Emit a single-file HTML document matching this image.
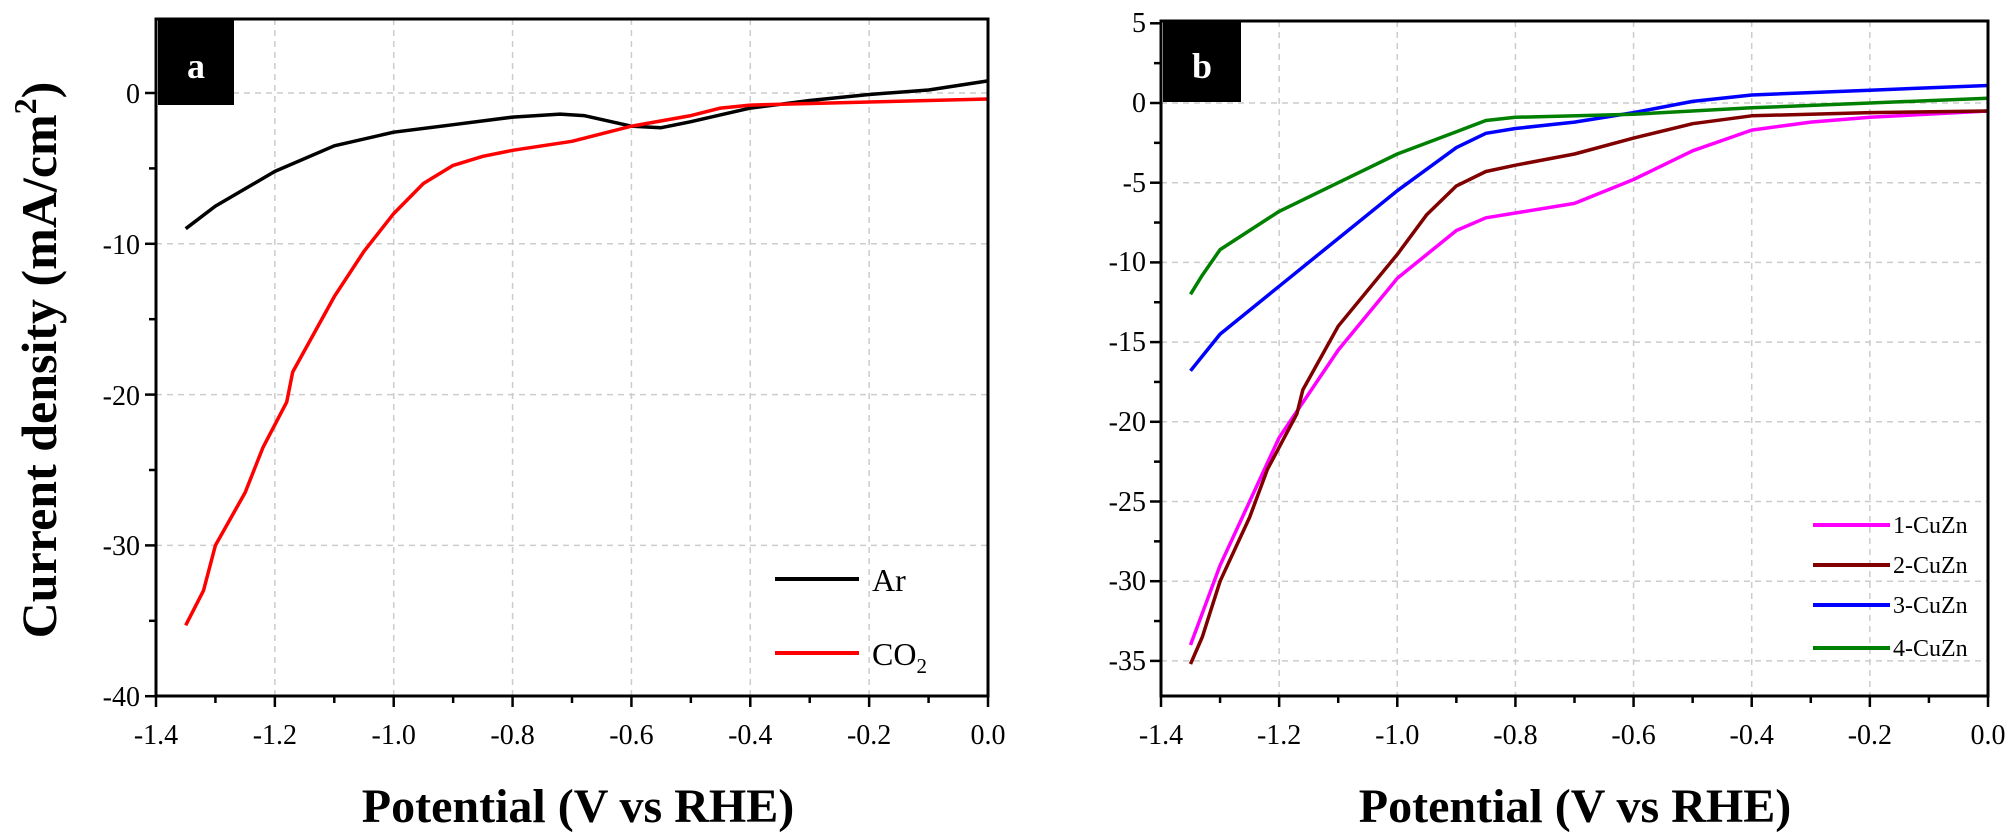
<!DOCTYPE html>
<html><head><meta charset="utf-8"><style>
html,body{margin:0;padding:0;background:#fff}
svg{display:block}
</style></head><body>
<svg id="s" width="2006" height="834" viewBox="0 0 2006 834" xmlns="http://www.w3.org/2000/svg" font-family="'Liberation Serif', serif">
<g id="grid"></g>
<g id="ticks"></g>
<g id="curves" fill="none" stroke-width="3.5" stroke-linejoin="round"></g>
<rect x="156" y="19" width="832" height="677" fill="none" stroke="#000" stroke-width="3"/>
<rect x="1161" y="21" width="827" height="675" fill="none" stroke="#000" stroke-width="3"/>
<rect x="158" y="20" width="76" height="85" fill="#000"/>
<text x="196" y="78" font-size="36" font-weight="bold" fill="#fff" text-anchor="middle">a</text>
<rect x="1163" y="22" width="78" height="80" fill="#000"/>
<text x="1202" y="78" font-size="36" font-weight="bold" fill="#fff" text-anchor="middle">b</text>
<g font-size="28" text-anchor="end">
<text x="140" y="103">0</text>
<text x="140" y="254">-10</text>
<text x="140" y="405">-20</text>
<text x="140" y="555">-30</text>
<text x="140" y="706">-40</text>
</g>
<g font-size="28" text-anchor="end">
<text x="1146" y="32">5</text>
<text x="1146" y="112">0</text>
<text x="1146" y="192">-5</text>
<text x="1146" y="271">-10</text>
<text x="1146" y="351">-15</text>
<text x="1146" y="431">-20</text>
<text x="1146" y="511">-25</text>
<text x="1146" y="590">-30</text>
<text x="1146" y="670">-35</text>
</g>
<g font-size="28" text-anchor="middle" id="xl"></g>
<text x="578" y="822" font-size="48" font-weight="bold" text-anchor="middle">Potential (V vs RHE)</text>
<text x="1575" y="822" font-size="48" font-weight="bold" text-anchor="middle">Potential (V vs RHE)</text>
<text transform="translate(56,360) rotate(-90)" font-size="50" font-weight="bold" text-anchor="middle">Current density (mA/cm<tspan dy="-20" font-size="32">2</tspan><tspan dy="20">)</tspan></text>
<line x1="775" y1="579" x2="859" y2="579" stroke="#000" stroke-width="4"/>
<text x="872" y="591" font-size="32">Ar</text>
<line x1="775" y1="653" x2="859" y2="653" stroke="#f00" stroke-width="4"/>
<text x="872" y="665" font-size="32">CO<tspan font-size="21" dy="8">2</tspan></text>
<g font-size="24">
<line x1="1813" y1="525" x2="1890" y2="525" stroke="#f0f" stroke-width="4"/><text x="1893" y="533">1-CuZn</text>
<line x1="1813" y1="565" x2="1890" y2="565" stroke="#800000" stroke-width="4"/><text x="1893" y="573">2-CuZn</text>
<line x1="1813" y1="605" x2="1890" y2="605" stroke="#0000ff" stroke-width="4"/><text x="1893" y="613">3-CuZn</text>
<line x1="1813" y1="648" x2="1890" y2="648" stroke="#008000" stroke-width="4"/><text x="1893" y="656">4-CuZn</text>
</g>
</svg>
<script>
var NS="http://www.w3.org/2000/svg";
function el(p,t,a){var e=document.createElementNS(NS,t);for(var k in a)e.setAttribute(k,a[k]);document.getElementById(p).appendChild(e);return e;}
var A={x0:156,x1:988,yz:93,ys:15.08,top:19,bot:696},B={x0:1161,x1:1988,yz:103,ys:15.94,top:21,bot:696};
function X(P,v){return P.x0+(v+1.4)*(P.x1-P.x0)/1.4}
function Y(P,v){return P.yz-v*P.ys}
[A,B].forEach(function(P,i){
 for(var k=0;k<=14;k++){var v=-1.4+k*0.1,x=X(P,v),maj=k%2==0;
  if(maj&&k>0&&k<14)el("grid","line",{x1:x,y1:P.top,x2:x,y2:P.bot,stroke:"#ccc","stroke-width":1.5,"stroke-dasharray":"6,5"});
  el("ticks","line",{x1:x,y1:P.bot,x2:x,y2:P.bot+(maj?11:7),stroke:"#000","stroke-width":2.5});
  if(maj){var t=el("xl","text",{x:x,y:P.bot+48});t.textContent=(v>-0.01?"0.0":v.toFixed(1));}
 }
 var ys=i==0?[0,-10,-20,-30]:[0,-5,-10,-15,-20,-25,-30,-35];
 ys.forEach(function(v){el("grid","line",{x1:P.x0,y1:Y(P,v),x2:P.x1,y2:Y(P,v),stroke:"#ccc","stroke-width":1.5,"stroke-dasharray":"6,5"});});
 var st=i==0?5:2.5,lo=i==0?-40:-37.5,hi=5;
 for(var v=hi;v>=lo-0.01;v-=st){var y=Y(P,v);if(y<P.top-1||y>P.bot+1)continue;
  var maj=i==0?(Math.abs(v%10)<0.01):(Math.abs(v%5)<0.01);
  el("ticks","line",{x1:P.x0-(maj?11:7),y1:y,x2:P.x0,y2:y,stroke:"#000","stroke-width":2.5});}
});
function curve(P,pts,c){var d="";pts.forEach(function(p,j){d+=(j?"L":"M")+X(P,p[0]).toFixed(1)+","+Y(P,p[1]).toFixed(1);});el("curves","path",{d:d,stroke:c});}
curve(A,[[-1.35,-9],[-1.3,-7.5],[-1.2,-5.2],[-1.1,-3.5],[-1.0,-2.6],[-0.9,-2.1],[-0.8,-1.6],[-0.72,-1.4],[-0.68,-1.5],[-0.6,-2.2],[-0.55,-2.3],[-0.5,-1.9],[-0.4,-1.0],[-0.3,-0.5],[-0.2,-0.1],[-0.1,0.2],[0,0.8]],"#000");
curve(A,[[-1.35,-35.3],[-1.32,-33],[-1.3,-30],[-1.25,-26.5],[-1.22,-23.5],[-1.18,-20.5],[-1.17,-18.5],[-1.1,-13.5],[-1.05,-10.5],[-1.0,-8],[-0.95,-6],[-0.9,-4.8],[-0.85,-4.2],[-0.8,-3.8],[-0.7,-3.2],[-0.6,-2.2],[-0.5,-1.5],[-0.45,-1.0],[-0.4,-0.8],[-0.2,-0.6],[0,-0.4]],"#f00");
curve(B,[[-1.35,-34],[-1.3,-29],[-1.2,-21],[-1.1,-15.5],[-1.0,-11],[-0.9,-8],[-0.85,-7.2],[-0.8,-6.9],[-0.7,-6.3],[-0.6,-4.8],[-0.5,-3],[-0.4,-1.7],[-0.3,-1.2],[-0.2,-0.9],[0,-0.5]],"#f0f");
curve(B,[[-1.35,-35.2],[-1.33,-33.5],[-1.3,-30],[-1.25,-26],[-1.22,-23],[-1.17,-19.5],[-1.16,-18],[-1.1,-14],[-1.0,-9.5],[-0.95,-7],[-0.9,-5.2],[-0.85,-4.3],[-0.8,-3.9],[-0.7,-3.2],[-0.6,-2.2],[-0.5,-1.3],[-0.4,-0.8],[-0.2,-0.6],[0,-0.5]],"#800000");
curve(B,[[-1.35,-16.8],[-1.3,-14.5],[-1.2,-11.5],[-1.1,-8.5],[-1.0,-5.5],[-0.9,-2.8],[-0.85,-1.9],[-0.8,-1.6],[-0.7,-1.2],[-0.6,-0.6],[-0.5,0.1],[-0.4,0.5],[-0.2,0.8],[0,1.1]],"#0000ff");
curve(B,[[-1.35,-12],[-1.33,-10.8],[-1.3,-9.2],[-1.2,-6.8],[-1.1,-5],[-1.0,-3.2],[-0.9,-1.8],[-0.85,-1.1],[-0.8,-0.9],[-0.6,-0.7],[-0.4,-0.3],[-0.2,0],[0,0.3]],"#008000");
</script>
</body></html>
